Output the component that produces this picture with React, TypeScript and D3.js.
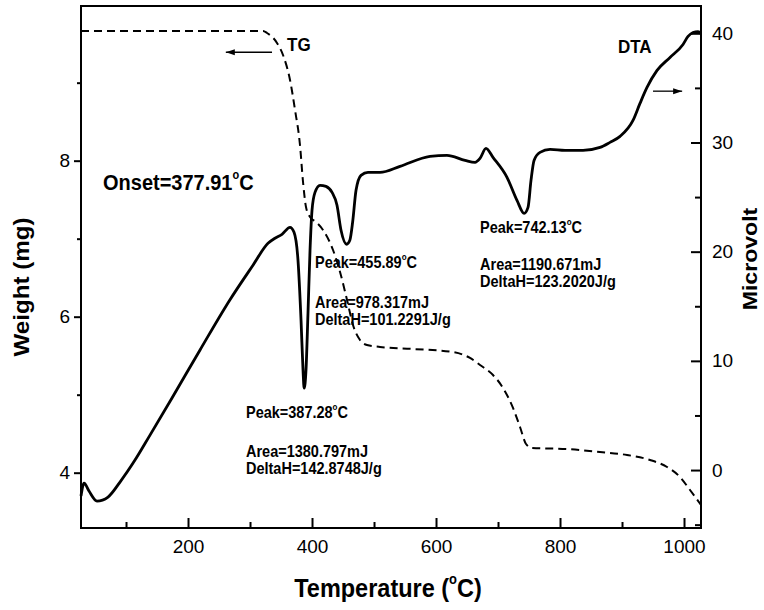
import React, { useEffect, useRef } from 'react';
import * as d3 from 'd3';

// TG curve (dashed)
const tgTemp = [27.4, 321.0, 327.4, 343.5, 353.2, 364.5, 372.6, 380.6, 385.5, 390.3, 396.8, 406.5, 417.7, 433.9, 445.2, 456.5, 466.1, 477.4, 488.7, 509.7, 562.9, 627.4, 654.8, 671.0, 691.9, 708.1, 724.2, 735.5, 745.2, 754.8, 811.3, 864.5, 908.1, 945.2, 972.6, 993.5, 1009.7, 1027.4];
const tgWeight = [9.663, 9.663, 9.637, 9.509, 9.355, 9.035, 8.65, 8.201, 7.727, 7.406, 7.278, 7.214, 7.112, 6.855, 6.573, 6.214, 5.894, 5.701, 5.637, 5.612, 5.586, 5.547, 5.471, 5.381, 5.253, 5.086, 4.83, 4.586, 4.368, 4.317, 4.304, 4.265, 4.227, 4.163, 4.073, 3.945, 3.778, 3.586];

// DTA curve (solid)
const dtaTemp = [27.4, 32.3, 40.3, 53.2, 71.0, 90.3, 114.5, 138.7, 174.2, 219.4, 267.7, 304.8, 329.0, 340.3, 351.6, 364.5, 371.0, 377.4, 382.3, 385.5, 387.3, 390.3, 393.5, 396.8, 400.0, 404.8, 412.9, 422.6, 432.3, 440.3, 446.8, 455.9, 461.0, 465.5, 471.0, 479.0, 490.3, 509.7, 541.9, 590.3, 617.7, 646.8, 662.9, 671.0, 680.6, 691.9, 714.5, 730.6, 742.1, 748.4, 753.2, 758.1, 767.7, 783.9, 808.1, 837.1, 864.5, 880.6, 896.8, 917.7, 929.0, 940.3, 956.5, 977.4, 998.4, 1006.5, 1014.5, 1022.6, 1027.4];
const dtaVolt = [-2.38, -1.19, -1.92, -2.84, -2.47, -1.1, 0.91, 3.2, 6.6, 11.0, 15.6, 18.76, 20.77, 21.23, 21.59, 22.23, 21.77, 19.21, 13.72, 9.15, 7.5, 9.15, 14.36, 20.13, 23.79, 25.43, 26.08, 25.98, 25.43, 24.25, 21.96, 20.68, 21.04, 22.69, 25.62, 26.99, 27.26, 27.26, 27.81, 28.73, 28.82, 28.36, 28.18, 28.55, 29.46, 28.64, 26.81, 24.7, 23.51, 24.06, 26.53, 28.36, 29.09, 29.37, 29.28, 29.28, 29.55, 30.01, 30.56, 32.02, 33.58, 35.04, 36.6, 37.79, 38.98, 39.71, 40.07, 40.16, 39.98];

const tempTicks = [200, 400, 600, 800, 1000];
const tempMinor = [100, 300, 500, 700, 900];
const weightTicks = [4, 6, 8];
const weightMinor = [5, 7, 9];
const voltTicks = [0, 10, 20, 30, 40];
const voltMinor = [-5, 5, 15, 25, 35];

const peakLabels = ['Peak=387.28', 'Peak=455.89', 'Peak=742.13'];
const areaLabels = ['Area=1380.797mJ', 'Area=978.317mJ', 'Area=1190.671mJ'];
const deltaLabels = ['DeltaH=142.8748J/g', 'DeltaH=101.2291J/g', 'DeltaH=123.2020J/g'];
const onsetLabel = 'Onset=377.91';

const FONT = '"Liberation Sans", Arial, Helvetica, sans-serif';
const SY = 1.1; // text in the original is a bit taller than wide

export default function App() {
  const ref = useRef<SVGSVGElement>(null);

  useEffect(() => {
    const svg = d3.select(ref.current);
    svg.selectAll('*').remove();

    const left = 81, right = 701, top = 6, bottom = 528;
    const x = d3.scaleLinear().domain([27.4, 1027.4]).range([left, right]);
    const yW = d3.scaleLinear().domain([3.291, 9.983]).range([bottom, top]);
    const yV = d3.scaleLinear().domain([-5.307, 42.5]).range([bottom, top]);

    const styleAxis = (g: any) => {
      g.select('.domain').remove();
      g.attr('font-family', FONT).attr('font-size', 19);
      g.selectAll('line').attr('stroke', '#000').attr('stroke-width', 2);
      g.selectAll('text').attr('fill', '#000');
    };

    // bottom axis, ticks pointing in
    svg.append('g').attr('transform', `translate(0,${bottom})`)
      .call(d3.axisBottom(x).tickValues(tempTicks).tickSize(-10).tickPadding(12).tickFormat(d3.format('d')))
      .call(styleAxis);
    svg.append('g').attr('transform', `translate(0,${bottom})`)
      .call(d3.axisBottom(x).tickValues(tempMinor).tickSize(-6).tickFormat(() => ''))
      .call(styleAxis);

    // left axis, ticks pointing out
    svg.append('g').attr('transform', `translate(${left},0)`)
      .call(d3.axisLeft(yW).tickValues(weightTicks).tickSize(7).tickPadding(4).tickFormat(d3.format('d')))
      .call(styleAxis);
    svg.append('g').attr('transform', `translate(${left},0)`)
      .call(d3.axisLeft(yW).tickValues(weightMinor).tickSize(4).tickFormat(() => ''))
      .call(styleAxis);

    // right axis, ticks pointing in
    svg.append('g').attr('transform', `translate(${right},0)`)
      .call(d3.axisRight(yV).tickValues(voltTicks).tickSize(-10).tickPadding(11).tickFormat(d3.format('d')))
      .call(styleAxis);
    svg.append('g').attr('transform', `translate(${right},0)`)
      .call(d3.axisRight(yV).tickValues(voltMinor).tickSize(-6).tickFormat(() => ''))
      .call(styleAxis);

    svg.append('rect')
      .attr('x', left).attr('y', top).attr('width', right - left).attr('height', bottom - top)
      .attr('fill', 'none').attr('stroke', '#000').attr('stroke-width', 2);

    // curves
    const tgLine = d3.line<number>()
      .x((d, i) => x(tgTemp[i]))
      .y(d => yW(d))
      .curve(d3.curveMonotoneX);
    svg.append('path')
      .attr('d', tgLine(tgWeight))
      .attr('fill', 'none').attr('stroke', '#000').attr('stroke-width', 2)
      .attr('stroke-dasharray', '8,5');

    const dtaLine = d3.line<number>()
      .x((d, i) => x(dtaTemp[i]))
      .y(d => yV(d))
      .curve(d3.curveMonotoneX);
    svg.append('path')
      .attr('d', dtaLine(dtaVolt))
      .attr('fill', 'none').attr('stroke', '#000').attr('stroke-width', 2.8)
      .attr('stroke-linejoin', 'round');

    // text helper, with optional superscript "o" + "C"
    const text = (px: number, py: number, str: string, fs: number, degree: boolean, rotate = false, anchor = 'start') => {
      const t = svg.append('text')
        .attr('transform', `translate(${px},${py}) scale(1,${SY})${rotate ? ' rotate(-90)' : ''}`)
        .attr('font-family', FONT).attr('font-weight', 'bold').attr('font-size', fs)
        .attr('text-anchor', anchor).attr('fill', '#000');
      t.append('tspan').text(str);
      if (degree) {
        t.append('tspan').attr('dy', -fs * 0.5).attr('font-size', fs * 0.55).text('o');
        t.append('tspan').attr('dy', fs * 0.5).text('C');
      }
      return t;
    };

    // annotations
    const ann = 14.5;
    text(x(293.5), yV(4.76), peakLabels[0], ann, true);
    text(x(293.5), yV(1.19), areaLabels[0], ann, false);
    text(x(293.5), yV(-0.37), deltaLabels[0], ann, false);
    text(x(404.8), yV(18.48), peakLabels[1], ann, true);
    text(x(404.8), yV(14.82), areaLabels[1], ann, false);
    text(x(404.8), yV(13.27), deltaLabels[1], ann, false);
    text(x(671), yV(21.68), peakLabels[2], ann, true);
    text(x(671), yV(18.3), areaLabels[2], ann, false);
    text(x(671), yV(16.74), deltaLabels[2], ann, false);

    text(x(62.9), yW(7.624), onsetLabel, 20, true);
    text(x(359.7), yW(9.406), 'TG', 17, false);
    text(x(893.5), yV(38.15), 'DTA', 17, false);

    // arrows
    const arrow = (x1: number, x2: number, y: number) => {
      svg.append('line').attr('x1', x1).attr('x2', x2).attr('y1', y).attr('y2', y)
        .attr('stroke', '#000').attr('stroke-width', 1.3);
      const dir = Math.sign(x2 - x1);
      svg.append('path')
        .attr('d', `M${x2},${y} L${x2 - dir * 9},${y - 3} L${x2 - dir * 9},${y + 3} Z`)
        .attr('fill', '#000');
    };
    arrow(x(335.5), x(261), yW(9.39));
    arrow(x(950), x(997), yV(34.7));

    // axis titles
    text(388, 597, 'Temperature (', 23.5, true, false, 'middle').append('tspan').text(')');
    text(29, 287, 'Weight (mg)', 22, false, true, 'middle');
    text(757, 259, 'Microvolt', 21, false, true, 'middle');
  }, []);

  return (
    <div style={{ position: 'absolute', left: 0, top: 0 }}>
      <svg ref={ref} width={764} height={610} style={{ display: 'block', background: '#fff' }} />
    </div>
  );
}
